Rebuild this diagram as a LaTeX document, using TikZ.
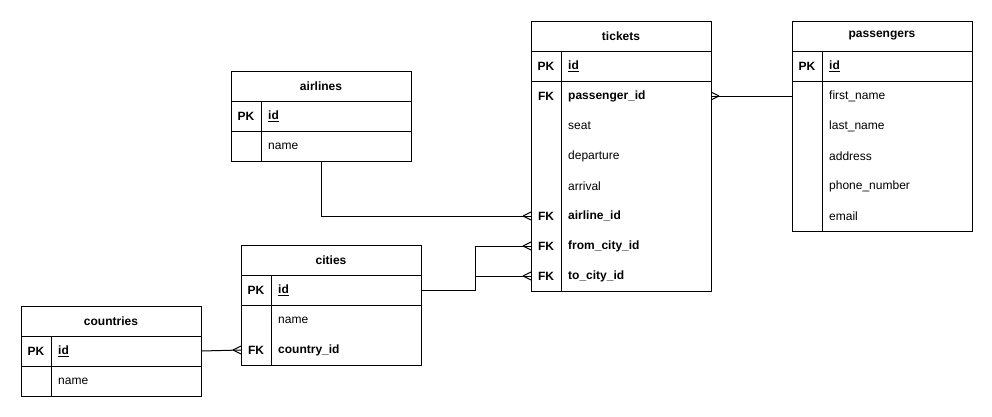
\documentclass[tikz,border=0pt]{standalone}
\usepackage{fontspec}
\setmainfont{Liberation Sans}
\tikzset{
  frame/.style={draw=black, line width=1pt},
  conn/.style={draw=black, line width=1pt},
  row/.style={minimum width=180pt, minimum height=30pt, anchor=north west, inner sep=0pt, outer sep=0pt},
  keytxt/.style={font=\bfseries\fontsize{12}{14}\selectfont, anchor=center, inner sep=0pt},
  fldtxt/.style={anchor=west, inner sep=0pt},
}
\newcommand\erframe[3]{%
  \draw[frame] (#1,#2) rectangle (#1+180,#2+30+30*#3);
  \draw[frame] (#1,#2+30) -- (#1+180,#2+30);
  \draw[frame] (#1,#2+60) -- (#1+180,#2+60);
  \draw[frame] (#1+30,#2+30) -- (#1+30,#2+30+30*#3);}
\newcommand\erhead[4]{\node[row] (#1) at (#2,#3) {\bfseries #4};}
\newcommand\errow[5]{%
  \node[row] (#1) at (#2,#3) {};
  \node[keytxt] (#1-k) at ([xshift=15pt]#1.west) {#4};
  \node[fldtxt] (#1-f) at ([xshift=37pt]#1.west) {#5};}
\newcommand\ercrow[2]{%
  \draw[conn] ([xshift=#2pt]#1) -- ([yshift=4pt]#1) ([xshift=#2pt]#1) -- ([yshift=-4pt]#1);}
\begin{document}
\begin{tikzpicture}[x=1pt, y=-1pt, font=\fontsize{12}{14}\selectfont]
\fill[white] (0,0) rectangle (992,416);
\useasboundingbox (0,0) rectangle (992,416);

% tickets
\erframe{531}{21}{8}
\erhead{tk}{531}{21}{tickets}
\errow{tk-id}{531}{51}{PK}{\bfseries\underline{id}}
\errow{tk-pid}{531}{81}{FK}{\bfseries passenger\_id}
\errow{tk-seat}{531}{111}{}{seat}
\errow{tk-dep}{531}{141}{}{departure}
\errow{tk-arr}{531}{171}{}{arrival}
\errow{tk-air}{531}{201}{FK}{\bfseries airline\_id}
\errow{tk-from}{531}{231}{FK}{\bfseries from\_city\_id}
\errow{tk-to}{531}{261}{FK}{\bfseries to\_city\_id}

% passengers
\erframe{792}{21}{6}
\erhead{ps}{792}{21}{passengers}
\errow{ps-id}{792}{51}{PK}{\bfseries\underline{id}}
\errow{ps-first}{792}{81}{}{first\_name}
\errow{ps-last}{792}{111}{}{last\_name}
\errow{ps-addr}{792}{141}{}{address}
\errow{ps-phone}{792}{171}{}{phone\_number}
\errow{ps-email}{792}{201}{}{email}

% airlines
\erframe{231}{71}{2}
\erhead{al}{231}{71}{airlines}
\errow{al-id}{231}{101}{PK}{\bfseries\underline{id}}
\errow{al-name}{231}{131}{}{name}

% cities
\erframe{241}{245}{3}
\erhead{ci}{241}{245}{cities}
\errow{ci-id}{241}{275}{PK}{\bfseries\underline{id}}
\errow{ci-name}{241}{305}{}{name}
\errow{ci-cid}{241}{335}{FK}{\bfseries country\_id}

% countries
\erframe{21}{306}{2}
\erhead{co}{21}{306}{countries}
\errow{co-id}{21}{336}{PK}{\bfseries\underline{id}}
\errow{co-name}{21}{366}{}{name}

% connectors
\draw[conn] (ps-first.west) -- (tk-pid.east);
\ercrow{tk-pid.east}{8}
\draw[conn] (al-name.south) |- (tk-air.west);
\ercrow{tk-air.west}{-8}
\coordinate (j) at (475,290);
\draw[conn] (ci-id.east) -- (j) |- (tk-from.west);
\draw[conn] (j) |- (tk-to.west);
\ercrow{tk-from.west}{-8}
\ercrow{tk-to.west}{-8}
\draw[conn] (co-id.east) -- (ci-cid.west);
\ercrow{ci-cid.west}{-8}
\end{tikzpicture}
\end{document}
